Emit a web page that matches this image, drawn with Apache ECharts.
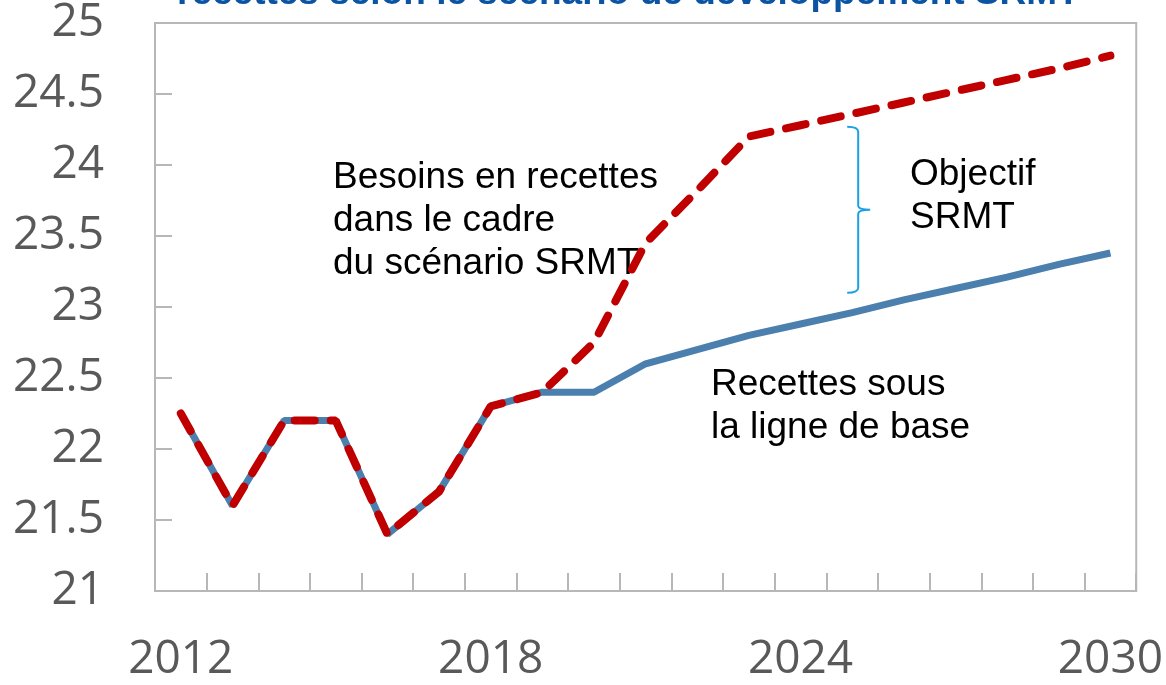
<!DOCTYPE html>
<html style="height: 100%">
<head>
  <meta charset="utf-8">
  <title>Recettes selon le scénario de développement SRMT</title>
  <style type="text/css">
    body { margin: 0; background: #fff; }
  </style>
</head>
<body style="height: 100%; margin: 0;">
  <div id="container" style="width: 1166px; height: 685px"></div>

  <script type="text/javascript" src="https://cdn.jsdelivr.net/npm/echarts@6/dist/echarts.min.js"></script>
  <script type="text/javascript">
    // données
    var years = ['2012', '2013', '2014', '2015', '2016', '2017', '2018', '2019', '2020', '2021',
                 '2022', '2023', '2024', '2025', '2026', '2027', '2028', '2029', '2030'];
    var baseline = [22.25, 21.6, 22.2, 22.2, 21.4, 21.7, 22.3, 22.4, 22.4, 22.6,
                    22.7, 22.8, 22.88, 22.96, 23.05, 23.13, 23.21, 23.3, 23.38];
    var srmt = [22.25, 21.6, 22.2, 22.2, 21.4, 21.7, 22.3, 22.4, 22.75, 23.45,
                23.82, 24.2, 24.28, 24.36, 24.44, 24.52, 24.6, 24.68, 24.77];
    // accolade "Objectif SRMT" : [index année, haut, bas]
    var gap = [[13, 24.27, 23.1]];

    var dom = document.getElementById('container');
    var chart = echarts.init(dom);

    var grey = '#b7b7b7';
    var labelFont = { fontFamily: 'Open Sans', fontSize: 46, color: '#595959' };
    var noteFont = { fontFamily: 'Liberation Sans', fontSize: 37, lineHeight: 43, fill: '#000' };

    var option = {
      animation: false,
      title: {
        text: 'recettes selon le scénario de développement SRMT',
        left: 172,
        top: -30,
        textStyle: { fontFamily: 'Liberation Sans', fontSize: 37, lineHeight: 37, fontWeight: 'bold', color: '#0b54a4' }
      },
      grid: {
        left: 155, right: 29, top: 23, bottom: 94,
        show: true, borderColor: grey, borderWidth: 2
      },
      xAxis: {
        type: 'category',
        data: years,
        axisLine: { lineStyle: { color: grey, width: 2 } },
        axisTick: { show: true, inside: true, length: 18, interval: 0, lineStyle: { color: grey, width: 2 } },
        axisLabel: Object.assign({ interval: 5, margin: 46, lineHeight: 46 }, labelFont)
      },
      yAxis: {
        type: 'value',
        min: 21, max: 25, interval: 0.5,
        splitLine: { show: false },
        axisLine: { show: true, lineStyle: { color: grey, width: 2 } },
        axisTick: { show: true, inside: true, length: 17, lineStyle: { color: grey, width: 2 } },
        axisLabel: Object.assign({ margin: 51 }, labelFont)
      },
      series: [
        {
          name: 'Recettes sous la ligne de base',
          type: 'line',
          data: baseline,
          symbol: 'none',
          lineStyle: { color: '#4a7fae', width: 7 },
          z: 2
        },
        {
          name: 'Besoins en recettes (SRMT)',
          type: 'line',
          data: srmt,
          symbol: 'none',
          lineStyle: { color: '#c00000', width: 8, type: [20, 16], cap: 'round' },
          z: 3
        },
        {
          type: 'custom',
          data: gap,
          z: 4,
          renderItem: function (params, api) {
            var top = api.coord([api.value(0), api.value(1)]);
            var bot = api.coord([api.value(0), api.value(2)]);
            var x = top[0] + 6, y0 = top[1], y1 = bot[1];
            var mid = (y0 + y1) / 2, w = 11, r = 5;
            var d = 'M' + (x - w) + ' ' + y0 +
              ' Q' + x + ' ' + y0 + ' ' + x + ' ' + (y0 + r) +
              ' L' + x + ' ' + (mid - 4) +
              ' Q' + x + ' ' + mid + ' ' + (x + 12) + ' ' + mid +
              ' Q' + x + ' ' + mid + ' ' + x + ' ' + (mid + 4) +
              ' L' + x + ' ' + (y1 - r) +
              ' Q' + x + ' ' + y1 + ' ' + (x - w) + ' ' + y1;
            return {
              type: 'path',
              shape: { pathData: d },
              style: { fill: 'none', stroke: '#1ba1e2', lineWidth: 2 }
            };
          }
        }
      ],
      graphic: [
        { type: 'text', left: 333, top: 156, style: Object.assign({ text: 'Besoins en recettes\ndans le cadre\ndu scénario SRMT' }, noteFont) },
        { type: 'text', left: 910, top: 153, style: Object.assign({ text: 'Objectif\nSRMT' }, noteFont) },
        { type: 'text', left: 711, top: 363, style: Object.assign({ text: 'Recettes sous\nla ligne de base' }, noteFont) }
      ]
    };

    chart.setOption(option);
  </script>
</body>
</html>
